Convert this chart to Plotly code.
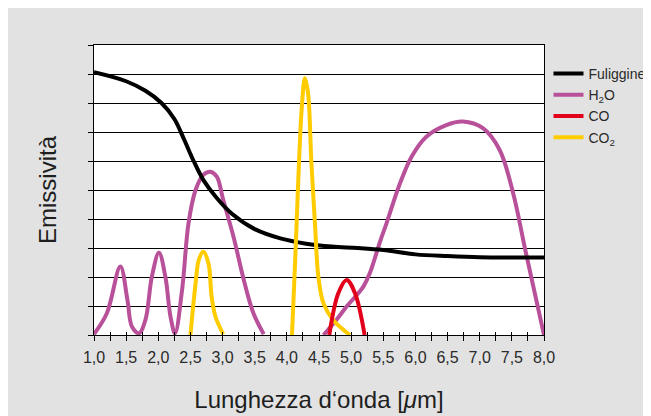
import plotly.graph_objects as go

# ---- data ----
soot_x = [1.0, 1.5, 1.8, 2.05, 2.25, 2.4, 2.55, 2.7, 2.9, 3.15, 3.5, 3.9, 4.3, 4.7, 5.1, 5.5, 6.0, 6.5, 7.0, 7.5, 8.0]
soot_y = [9.06, 8.75, 8.42, 8.0, 7.45, 6.75, 6.0, 5.35, 4.75, 4.17, 3.65, 3.33, 3.15, 3.05, 3.0, 2.93, 2.78, 2.72, 2.68, 2.67, 2.67]

h2o_x = [1.0, 1.2, 1.41, 1.52, 1.59, 1.7, 1.8, 1.9, 2.01, 2.11, 2.19, 2.26, 2.37, 2.47, 2.58, 2.7, 2.81, 2.91,
         3.01, 3.17, 3.33, 3.48, 3.64, None,
         4.57, 4.77, 4.93, 5.19, 5.29, 5.45, 5.55, 5.76, 5.94, 6.17, 6.48, 6.74, 7.05, 7.31, 7.52, 7.72, 8.0]
h2o_y = [0.03, 0.75, 2.36, 1.21, 0.29, 0.06, 0.52, 2.01, 2.84, 2.01, 0.63, 0.06, 1.55, 3.85, 5.0, 5.52, 5.63, 5.46,
         4.66, 3.39, 1.9, 0.75, 0.03, None,
         0.0, 0.52, 0.98, 1.67, 2.13, 3.22, 3.85, 5.23, 6.15, 6.84, 7.24, 7.36, 7.13, 6.38, 4.89, 2.82, 0.0]

co_x = [4.66, 4.8, 4.93, 5.06, 5.21]
co_y = [0.0, 1.44, 1.9, 1.44, 0.0]

co2_x = [2.5, 2.58, 2.63, 2.7, 2.78, 2.83, 2.89, 3.01, None,
         4.08, 4.13, 4.18, 4.23, 4.28, 4.33, 4.38, 4.44, 4.49, 4.57, 4.72, 4.98]
co2_y = [0.0, 1.78, 2.59, 2.87, 2.47, 1.32, 0.63, 0.03, None,
         0.0, 2.59, 5.46, 7.76, 8.85, 8.33, 6.03, 3.73, 2.01, 1.09, 0.52, 0.0]

x_tick_vals = [1.0, 1.5, 2.0, 2.5, 3.0, 3.5, 4.0, 4.5, 5.0, 5.5, 6.0, 6.5, 7.0, 7.5, 8.0]
x_tick_text = ["1,0", "1,5", "2,0", "2,5", "3,0", "3,5", "4,0", "4,5", "5,0", "5,5", "6,0", "6,5", "7,0", "7,5", "8,0"]

C_SOOT = "#000000"
C_H2O = "#b9519a"
C_CO = "#e2001a"
C_CO2 = "#ffcc00"
LW = 4

fig = go.Figure()
fig.add_trace(go.Scatter(x=h2o_x, y=h2o_y, mode="lines", name="H<sub>2</sub>O", legendrank=2,
                         line=dict(color=C_H2O, width=LW, shape="spline"), connectgaps=False))
fig.add_trace(go.Scatter(x=soot_x, y=soot_y, mode="lines", name="Fuliggine", legendrank=1,
                         line=dict(color=C_SOOT, width=LW, shape="spline")))
fig.add_trace(go.Scatter(x=co2_x, y=co2_y, mode="lines", name="CO<sub>2</sub>", legendrank=4,
                         line=dict(color=C_CO2, width=LW, shape="spline"), connectgaps=False))
fig.add_trace(go.Scatter(x=co_x, y=co_y, mode="lines", name="CO", legendrank=3,
                         line=dict(color=C_CO, width=LW, shape="spline")))
# dummy trace for overlay axis (inner half of crossing ticks)
fig.add_trace(go.Scatter(x=[None], y=[None], xaxis="x2", showlegend=False, hoverinfo="skip"))

FONT = "Liberation Sans, Arial, sans-serif"
OFF = 8  # page body margin
W, H = 651 - OFF, 416 - OFF
L = 93.5 - OFF
R = W - (544.5 - OFF)
T = 45 - OFF
B = H - (335 - OFF)
pw, ph = W - L - R, H - T - B

def px2paper_x(px):  # px in page pixels
    return (px - OFF - L) / pw

def px2paper_y(py):
    return (H - B - (py - OFF)) / ph

fig.update_layout(
    width=W, height=H,
    margin=dict(l=L, r=R, t=T, b=B, pad=0, autoexpand=False),
    paper_bgcolor="#e2e2e2", plot_bgcolor="white",
    font=dict(family=FONT, color="#2a2a2a", size=16),
    showlegend=True,
    legend=dict(x=px2paper_x(549), y=px2paper_y(58), xanchor="left", yanchor="top",
                bgcolor="rgba(0,0,0,0)", font=dict(size=14, color="#2a2a2a"),
                traceorder="normal", itemwidth=30),
    xaxis=dict(range=[1.0, 8.0], tickvals=x_tick_vals, ticktext=x_tick_text, automargin=False,
               ticks="outside", ticklen=5, tickwidth=1, tickcolor="#000",
               minor=dict(dtick=0.25, tick0=1.0, ticks="outside", ticklen=5, tickwidth=1, tickcolor="#000", showgrid=False),
               showline=True, linecolor="#000", linewidth=1.2, mirror=True,
               showgrid=False, zeroline=False, ticklabelstandoff=3,
               tickfont=dict(size=16, color="#2a2a2a"),
               title=dict(text="Lunghezza d‘onda [<i>μ</i>m]", font=dict(size=24, color="#1e1e1e"), standoff=25)),
    xaxis2=dict(range=[1.0, 8.0], overlaying="x", anchor="y", side="bottom", automargin=False,
                tickvals=x_tick_vals, ticks="inside", ticklen=3, tickwidth=1, tickcolor="#000",
                minor=dict(dtick=0.25, tick0=1.0, ticks="inside", ticklen=3, tickwidth=1, tickcolor="#000", showgrid=False),
                showticklabels=False, showgrid=False, zeroline=False, showline=False),
    yaxis=dict(range=[0, 10], dtick=1, tick0=0, ticks="outside", ticklen=5, tickwidth=1, tickcolor="#000",
               showticklabels=False, showline=True, linecolor="#000", linewidth=1.2, mirror=True, automargin=False,
               showgrid=True, gridcolor="#000", gridwidth=1.3, zeroline=False,
               title=dict(text="Emissività", font=dict(size=24, color="#1e1e1e"), standoff=24.5)),
)

fig.write_html("out.html")
